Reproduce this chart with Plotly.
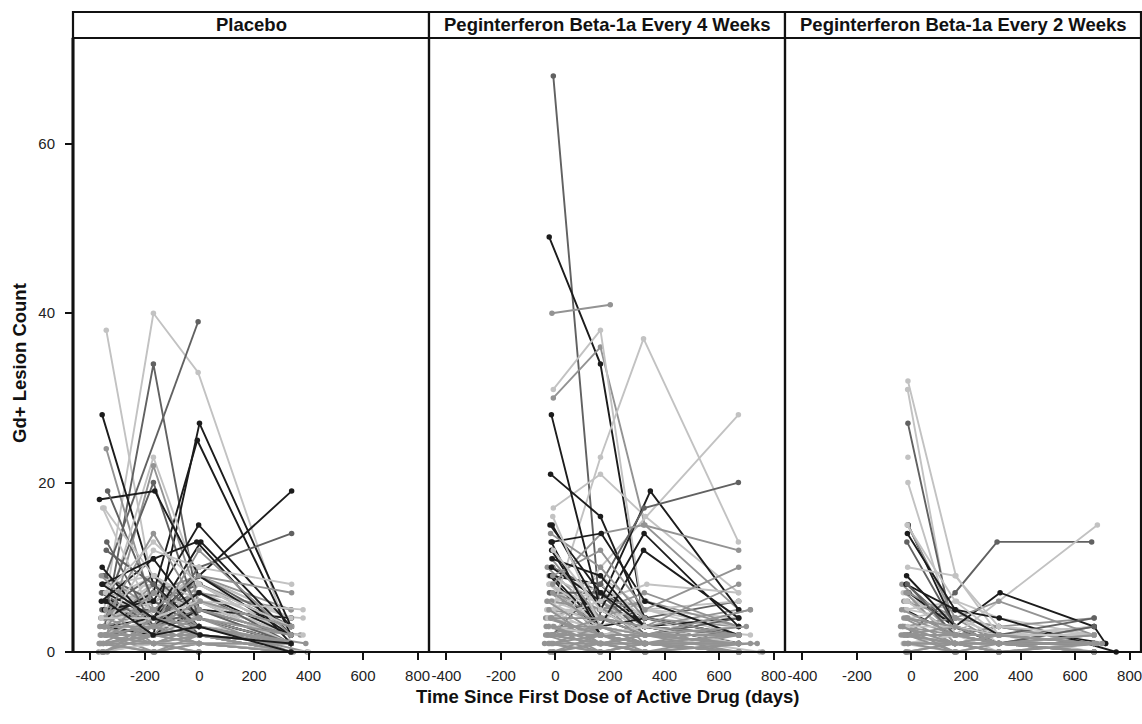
import plotly.graph_objects as go

# ---------------- data ----------------
panel_titles = ["Placebo", "Peginterferon Beta-1a Every 4 Weeks", "Peginterferon Beta-1a Every 2 Weeks"]
x_ticks = [-400, -200, 0, 200, 400, 600, 800]
y_ticks = [0, 20, 40, 60]

# subject shade group (0 = darkest ... 3 = lightest), mapped to a grey scale below

# Placebo
pbo_days = [
    [-352, -166, -4, 336], [-360, -170, 2, 336], [-355, -164, 0, 340], [-352, -168, -6, 336],
    [-350, -172, 2, 336], [-348, -170, -2, 336], [-345, -166, -6, 338], [-342, -168, -2, 336],
    [-340, -165, 3, 336], [-338, -170, -4, 336], [-365, -172, -2, 380], [-360, -168, -2, 370],
    [-355, -168, -2, 336], [-350, -164, 0, 336], [-345, -170, -4, 336], [-340, -168, -2, 336],
    [-352, -166, -2, 336], [-350, -168, 2, 336], [-356, -172, -2, 336], [-362, -168, -6, 336],
    [-346, -166, -2, 336], [-344, -168, 0, 336], [-366, -170, -2, 380], [-358, -168, -2, 336],
    [-342, -164, -4, 336], [-340, -168, -2, 336], [-357, -168, -2, 336], [-348, -170, -2, 336],
    # prominent subjects
    [-342, -168, -2, 336], [-350, -169, -5, 336], [-345, -5], [-348, -169, -2, 336],
    [-357, -169, -2, 336], [-352, -169, 0, 336], [-345, -169, -8, 336], [-342, -169, -2, 336],
    [-350, -169, -2, 336], [-340, -169, -2, 336], [-338, -169, -2, 336], [-367, -164, -2, 336],
    [-337, -169, -2, 336], [-345, -169, -2, 338], [-345, -169, -2, 338], [-350, -169, -3, 336],
    [-345, -169, 5, 336], [-360, -169, -10, 336], [-355, -169, -2, 336], [-350, -169, -2, 336],
    [-340, -169, -2, 336], [-342, -169, -2, 336], [-357, -169, -2, 336], [-345, -169, 0, 336],
    [-345, -169, -2, 338], [-350, -169, -2, 338], [-352, -169, -2, 380], [-355, -169, -2, 336],
    [-360, -169, -2, 336], [-345, -169, -2, 336],
    # low-count mass
    [-368, -168, -2, 336], [-362, -172, -2, 336], [-370, -168, 0, 336], [-366, -166, -2, 336],
    [-360, -168, -4, 345], [-356, -170, -2, 336], [-354, -168, 2, 336], [-350, -166, -2, 336],
    [-348, -168, -2, 336], [-346, -170, 0, 336], [-344, -168, -2, 336], [-342, -164, -2, 336],
    [-340, -168, -6, 336], [-338, -170, -2, 336], [-336, -168, -2, 336], [-352, -168, -2, 395],
    [-358, -166, -2, 400], [-365, -168, -2, 336], [-360, -170, -2, 336], [-354, -168, 2, 336],
    [-356, -168, -2, 336], [-364, -166, -2, 336], [-346, -168, -4, 336], [-350, -170, -2, 336],
    [-354, -168, -2, 336], [-352, -166, 0, 336], [-362, -168, -2, 390], [-348, -168, -2, 336],
    [-344, -170, -2, 336], [-358, -168, 2, 336],
]
pbo_counts = [
    [8, 5, 6, 2], [7, 6, 4, 1], [6, 9, 5, 3], [5, 7, 8, 4],
    [4, 8, 7, 3], [3, 9, 6, 2], [2, 6, 9, 4], [6, 4, 7, 5],
    [5, 3, 6, 3], [4, 5, 5, 2], [2, 2, 5, 4], [1, 4, 4, 2],
    [5, 6, 3, 1], [6, 7, 4, 2], [7, 8, 5, 1], [8, 9, 3, 1],
    [9, 5, 2, 0], [9, 6, 8, 3], [7, 2, 5, 4], [4, 7, 9, 5],
    [3, 8, 2, 0], [6, 3, 1, 0], [3, 3, 3, 2], [5, 5, 7, 1],
    [4, 6, 9, 4], [3, 2, 8, 2], [7, 3, 9, 3], [5, 9, 4, 1],
    [38, 7, 5, 2], [5, 40, 33, 1], [9, 39], [3, 34, 5, 2],
    [28, 8, 3, 1], [3, 2, 27, 3], [4, 7, 25, 2], [24, 5, 3, 1],
    [4, 23, 8, 2], [2, 22, 6, 1], [6, 20, 4, 1], [18, 19, 9, 2],
    [19, 6, 3, 1], [3, 4, 9, 19], [2, 3, 10, 14], [5, 6, 15, 3],
    [7, 4, 13, 2], [6, 11, 13, 1], [17, 4, 2, 0], [17, 9, 6, 1],
    [13, 3, 5, 1], [12, 8, 2, 1], [10, 3, 7, 2], [4, 14, 5, 2],
    [3, 12, 10, 8], [3, 5, 9, 7], [2, 4, 6, 5], [8, 11, 4, 1],
    [9, 3, 12, 2], [7, 13, 8, 3],
    [1, 2, 2, 0], [2, 3, 4, 0], [0, 1, 3, 1], [1, 0, 1, 0],
    [2, 1, 0, 0], [0, 0, 1, 0], [1, 1, 2, 1], [0, 2, 1, 0],
    [3, 1, 2, 0], [4, 2, 1, 1], [5, 1, 0, 0], [2, 0, 0, 0],
    [1, 3, 4, 2], [0, 4, 3, 1], [2, 5, 2, 0], [1, 2, 3, 0],
    [0, 1, 1, 0], [3, 3, 2, 1], [4, 4, 6, 3], [0, 3, 6, 3],
    [0, 2, 4, 1], [1, 1, 1, 1], [2, 2, 2, 1], [3, 3, 1, 0],
    [0, 0, 0, 0], [1, 0, 2, 0], [2, 1, 3, 1], [2, 7, 3, 1],
    [6, 2, 3, 0], [8, 4, 2, 1],
]
pbo_group = [
    2, 2, 3, 3, 3, 3, 3, 2, 2, 2, 3, 2, 3, 3, 3, 3, 2, 1, 0, 2, 2, 2, 3, 1, 3, 2, 1, 1,
    3, 3, 1, 1, 0, 0, 0, 2, 3, 2, 1, 0, 1, 0, 1, 0, 0, 0, 3, 3, 1, 1, 0, 2, 3, 2, 3, 0, 2, 3,
    2, 2, 2, 2, 2, 2, 2, 2, 2, 2, 2, 2, 2, 2, 2, 2, 3, 2, 3, 2, 2, 2, 2, 2, 2, 2, 2, 2, 0, 0,
]

# Every 4 weeks
q4w_days = [
    [-30, 165, 328, 672], [-25, 168, 330, 672], [-22, 162, 326, 672], [-20, 165, 328, 715],
    [-18, 170, 332, 672], [-16, 165, 328, 672], [-14, 160, 325, 672], [-12, 165, 330, 672],
    [-10, 168, 328, 672], [-8, 165, 326, 672], [-28, 165, 328, 672], [-24, 162, 330, 672],
    [-20, 168, 328, 672], [-18, 165, 332, 672], [-14, 165, 328, 715], [-12, 170, 325, 672],
    [-10, 165, 328, 672], [-26, 165, 328, 672], [-22, 160, 330, 672], [-16, 168, 328, 672],
    [-14, 165, 326, 672], [-12, 165, 330, 672], [-36, 165, 328, 672], [-32, 168, 328, 672],
    # prominent subjects
    [-8, 165, 328, 672], [-23, 165, 328, 672], [-13, 201], [-8, 165, 328, 672],
    [-8, 165, 328, 672], [-10, 165, 323, 671], [-8, 165, 330, 672], [-10, 165, 671],
    [-15, 165, 328, 672], [-18, 165, 328, 672], [-15, 165, 348, 672], [-10, 165, 325, 671],
    [-12, 165, 325, 672], [-14, 165, 323, 672], [-10, 168, 323, 672], [-12, 168, 328, 672],
    [-12, 165, 335, 671], [-10, 165, 328, 672], [-14, 165, 328, 672], [-10, 165, 328, 715],
    [-20, 165, 328, 672], [-16, 165, 328, 672], [-12, 165, 328, 672], [-18, 165, 328, 672],
    [-8, 165, 328, 672], [-10, 165, 328, 672],
    # low-count mass
    [-34, 165, 328, 672], [-30, 168, 330, 672], [-28, 165, 326, 750], [-26, 162, 328, 672],
    [-24, 165, 328, 672], [-22, 168, 332, 715], [-20, 165, 328, 672], [-18, 160, 328, 672],
    [-16, 165, 330, 672], [-14, 168, 328, 672], [-12, 165, 325, 672], [-10, 165, 328, 740],
    [-8, 162, 328, 672], [-6, 165, 330, 672], [-32, 165, 328, 672], [-28, 170, 328, 672],
    [-24, 165, 326, 672], [-20, 168, 328, 672], [-16, 165, 330, 700], [-12, 165, 328, 672],
    [-8, 168, 328, 672], [-36, 165, 328, 672], [-30, 165, 332, 672], [-26, 160, 328, 672],
    [-22, 165, 328, 672], [-18, 168, 326, 672], [-14, 165, 328, 672], [-10, 165, 330, 672],
    [-6, 165, 328, 760], [-40, 165, 328, 672], [-20, 165, 328, 672], [-15, 165, 328, 672],
]
q4w_counts = [
    [10, 4, 2, 1], [9, 6, 3, 2], [8, 5, 4, 3], [7, 3, 2, 5],
    [6, 7, 5, 2], [9, 8, 3, 4], [8, 2, 1, 3], [7, 6, 2, 1],
    [10, 7, 4, 6], [6, 9, 5, 3], [5, 4, 6, 2], [8, 3, 5, 4],
    [9, 2, 2, 1], [7, 5, 6, 3], [6, 4, 3, 2], [10, 6, 1, 2],
    [5, 8, 4, 1], [4, 6, 3, 5], [7, 7, 2, 4], [8, 4, 5, 6],
    [6, 5, 7, 3], [9, 3, 4, 2], [4, 2, 3, 1], [5, 5, 2, 3],
    [68, 4, 2, 1], [49, 34, 3, 1], [40, 41], [30, 36, 15, 5],
    [31, 38, 3, 2], [5, 23, 37, 13], [17, 21, 16, 7], [2, 10, 28],
    [28, 5, 2, 1], [21, 16, 4, 2], [10, 6, 19, 5], [2, 8, 17, 20],
    [15, 5, 14, 3], [12, 3, 12, 4], [8, 14, 15, 12], [13, 14, 6, 2],
    [4, 6, 8, 7], [9, 12, 5, 10], [11, 4, 3, 8], [7, 3, 2, 5],
    [15, 7, 3, 1], [13, 2, 1, 0], [11, 9, 3, 2], [14, 10, 4, 2],
    [12, 5, 2, 1], [16, 3, 2, 1],
    [3, 2, 1, 0], [2, 1, 1, 1], [4, 3, 2, 0], [1, 0, 1, 0],
    [3, 1, 2, 1], [2, 2, 0, 1], [5, 2, 1, 1], [0, 1, 0, 0],
    [1, 2, 2, 1], [4, 1, 0, 2], [2, 3, 1, 0], [3, 0, 1, 1],
    [1, 1, 0, 0], [0, 0, 1, 0], [6, 3, 2, 2], [2, 4, 3, 2],
    [5, 1, 1, 0], [3, 2, 3, 1], [4, 4, 2, 3], [1, 3, 1, 2],
    [0, 1, 2, 1], [2, 0, 0, 0], [6, 2, 1, 1], [3, 3, 2, 0],
    [1, 0, 0, 1], [4, 2, 1, 0], [2, 1, 2, 2], [0, 2, 1, 0],
    [3, 1, 0, 0], [1, 1, 1, 1], [0, 0, 0, 0], [2, 2, 1, 1],
]
q4w_group = [
    2, 3, 2, 2, 3, 0, 2, 3, 1, 3, 2, 3, 0, 2, 3, 2, 3, 2, 1, 3, 2, 0, 2, 3,
    1, 0, 2, 2, 3, 3, 3, 3, 0, 0, 0, 1, 0, 0, 2, 0, 3, 2, 2, 2, 0, 0, 0, 2, 3, 3,
    2, 2, 3, 2, 2, 2, 3, 2, 2, 2, 2, 2, 2, 2, 3, 2, 2, 3, 2, 2, 2, 2, 2, 2, 2, 2, 2, 2, 2, 2, 2, 2,
]

# Every 2 weeks
q2w_days = [
    [-35, 160, 320, 670], [-30, 158, 322, 670], [-28, 162, 318, 670], [-25, 160, 320, 712],
    [-22, 165, 320, 670], [-20, 160, 325, 670], [-18, 155, 320, 670], [-16, 160, 320, 670],
    [-14, 162, 320, 670], [-12, 160, 318, 670], [-10, 158, 320, 670], [-30, 160, 320, 670],
    [-24, 165, 322, 670], [-20, 160, 320, 670], [-16, 160, 320, 690], [-12, 162, 320, 670],
    # prominent subjects
    [-13, 163, 320, 670], [-14, 150, 320, 670], [-13, 150, 320, 670], [-13],
    [-13, 160, 320, 670], [-15, 160, 314, 661], [-15, 160, 320, 682], [-12, 160, 325, 670, 712],
    [-14, 160, 320, 670], [-15, 160, 322, 751], [-17, 160, 320, 670], [-16, 160, 320, 670],
    [-18, 160, 320, 670], [-20, 160, 320, 670], [-14, 160, 320, 670], [-15, 160, 320, 670],
    # low-count mass
    [-38, 160, 320, 670], [-34, 162, 320, 670], [-30, 160, 318, 670], [-28, 158, 320, 700],
    [-26, 160, 322, 670], [-24, 160, 320, 670], [-22, 165, 320, 670], [-20, 160, 320, 670],
    [-18, 160, 325, 670], [-16, 162, 320, 670], [-14, 160, 320, 670], [-12, 158, 320, 670],
    [-10, 160, 320, 670], [-8, 160, 318, 670], [-36, 165, 320, 670], [-32, 160, 320, 670],
    [-26, 160, 320, 680], [-22, 162, 320, 670], [-18, 160, 322, 670], [-14, 160, 320, 670],
    [-10, 165, 320, 670], [-40, 160, 320, 670], [-30, 160, 320, 670], [-20, 158, 320, 670],
    [-15, 160, 320, 670], [-25, 160, 320, 670],
]
q2w_counts = [
    [8, 2, 1, 1], [7, 3, 2, 0], [6, 4, 1, 2], [5, 2, 3, 1],
    [6, 5, 2, 3], [7, 1, 2, 2], [8, 3, 1, 0], [5, 4, 2, 3],
    [6, 2, 3, 1], [4, 5, 1, 2], [7, 3, 2, 2], [3, 4, 3, 1],
    [5, 6, 4, 2], [4, 3, 1, 3], [6, 2, 2, 1], [7, 4, 3, 4],
    [32, 9, 2, 1], [31, 2, 1, 0], [27, 3, 1, 1], [23],
    [20, 2, 1, 0], [2, 7, 13, 13], [1, 2, 6, 15], [15, 3, 7, 3, 1],
    [15, 4, 6, 2], [14, 5, 4, 0], [13, 3, 2, 4], [15, 6, 2, 2],
    [9, 3, 1, 1], [8, 5, 2, 1], [10, 9, 3, 2], [8, 2, 1, 3],
    [2, 1, 0, 0], [3, 2, 1, 1], [1, 0, 1, 0], [4, 1, 0, 1],
    [2, 3, 1, 2], [3, 1, 2, 1], [1, 2, 0, 0], [0, 1, 1, 0],
    [4, 2, 1, 1], [2, 0, 0, 1], [3, 3, 2, 2], [1, 1, 1, 0],
    [0, 0, 1, 1], [2, 1, 1, 0], [5, 2, 1, 0], [3, 0, 0, 0],
    [1, 1, 2, 1], [2, 2, 1, 1], [0, 1, 0, 0], [4, 3, 1, 2],
    [1, 0, 0, 0], [3, 1, 1, 0], [2, 2, 2, 1], [0, 0, 0, 0],
    [1, 1, 0, 1], [2, 1, 0, 0],
]
q2w_group = [
    2, 3, 2, 0, 3, 2, 1, 3, 2, 3, 0, 2, 3, 2, 3, 2,
    3, 3, 1, 3, 3, 1, 3, 0, 2, 0, 1, 3, 0, 0, 3, 1,
    2, 2, 3, 2, 2, 2, 3, 2, 2, 2, 3, 2, 2, 2, 2, 2, 2, 2, 2, 2, 2, 2, 2, 2, 2, 2,
]

# ---------------- figure ----------------
grey_scale = {0: "#1c1c1c", 1: "#616161", 2: "#939393", 3: "#c2c2c2"}
FONT = "Liberation Sans, Arial, Helvetica, sans-serif"

panels = [
    (pbo_days, pbo_counts, pbo_group),
    (q4w_days, q4w_counts, q4w_group),
    (q2w_days, q2w_counts, q2w_group),
]

fig = go.Figure()
for k, (days, counts, groups) in enumerate(panels):
    axs = "" if k == 0 else str(k + 1)
    for d, c, g in zip(days, counts, groups):
        col = grey_scale[g]
        fig.add_trace(go.Scatter(
            x=d, y=c, mode="lines+markers",
            line=dict(color=col, width=1.9),
            marker=dict(color=col, size=5.5),
            xaxis="x" + axs, yaxis="y" + axs,
            showlegend=False, hoverinfo="skip", cliponaxis=False,
        ))

x_range = [-464, 842]
y_range = [0, 72.5]
tickfont = dict(family=FONT, size=15, color="#222222")

layout_axes = {}
for k in range(3):
    axs = "" if k == 0 else str(k + 1)
    layout_axes["xaxis" + axs] = dict(
        domain=[k / 3, (k + 1) / 3], range=x_range, anchor="y" + axs,
        tickvals=x_ticks, ticktext=[str(v) for v in x_ticks],
        ticks="outside", ticklen=7, tickwidth=2, tickcolor="#111111",
        ticklabelstandoff=3, ticklabeloverflow="allow",
        showgrid=False, zeroline=False, showline=False, tickfont=tickfont,
    )
    if k == 0:
        layout_axes["yaxis"] = dict(
            domain=[0, 1], range=y_range, anchor="x",
            tickvals=y_ticks, ticks="outside", ticklen=7, tickwidth=2, tickcolor="#111111",
            ticklabelstandoff=7,
            showgrid=False, zeroline=False, showline=False, tickfont=tickfont,
        )
    else:
        layout_axes["yaxis" + axs] = dict(
            domain=[0, 1], range=y_range, anchor="x" + axs, matches="y",
            showticklabels=False, ticks="", showgrid=False, zeroline=False, showline=False,
        )

PLOT_W, PLOT_H = 1068, 614
strip_h = 26 / PLOT_H
TITLE_SIZE = 18.5
shapes = []
annotations = []
for k in range(3):
    shapes.append(dict(type="rect", xref="paper", yref="paper",
                       x0=k / 3, x1=(k + 1) / 3, y0=0, y1=1,
                       line=dict(color="#111111", width=2.2), fillcolor="rgba(0,0,0,0)"))
    shapes.append(dict(type="rect", xref="paper", yref="paper",
                       x0=k / 3, x1=(k + 1) / 3, y0=1, y1=1 + strip_h,
                       line=dict(color="#111111", width=2.2), fillcolor="white"))
    annotations.append(dict(text="<b>" + panel_titles[k] + "</b>", xref="paper", yref="paper",
                            x=(k + 0.5) / 3, y=1 + strip_h / 2, showarrow=False,
                            xanchor="center", yanchor="middle",
                            font=dict(family=FONT, size=TITLE_SIZE, color="#111111")))
# left y axis line (thicker)
shapes.append(dict(type="line", xref="paper", yref="paper", x0=0, x1=0, y0=0, y1=1,
                   line=dict(color="#111111", width=3)))

annotations.append(dict(text="<b>Time Since First Dose of Active Drug (days)</b>",
                        xref="paper", yref="paper", x=0.5, y=-44 / PLOT_H,
                        showarrow=False, xanchor="center", yanchor="middle",
                        font=dict(family=FONT, size=TITLE_SIZE, color="#111111")))
annotations.append(dict(text="<b>Gd+ Lesion Count</b>", textangle=-90,
                        xref="paper", yref="paper", x=-54 / PLOT_W, y=(652 - 363) / PLOT_H,
                        showarrow=False, xanchor="center", yanchor="middle",
                        font=dict(family=FONT, size=TITLE_SIZE, color="#111111")))

fig.update_layout(
    width=1142, height=724,
    margin=dict(l=73, r=1, t=38, b=72, pad=0),
    paper_bgcolor="white", plot_bgcolor="white",
    shapes=shapes, annotations=annotations,
    showlegend=False, hovermode=False,
    **layout_axes,
)

# remove the page's default body margin so the figure fills the window exactly
fig.write_html(
    "out.html",
    config={"displayModeBar": False, "staticPlot": True},
    post_script="document.body.style.margin='0';document.body.style.overflow='hidden';",
)
